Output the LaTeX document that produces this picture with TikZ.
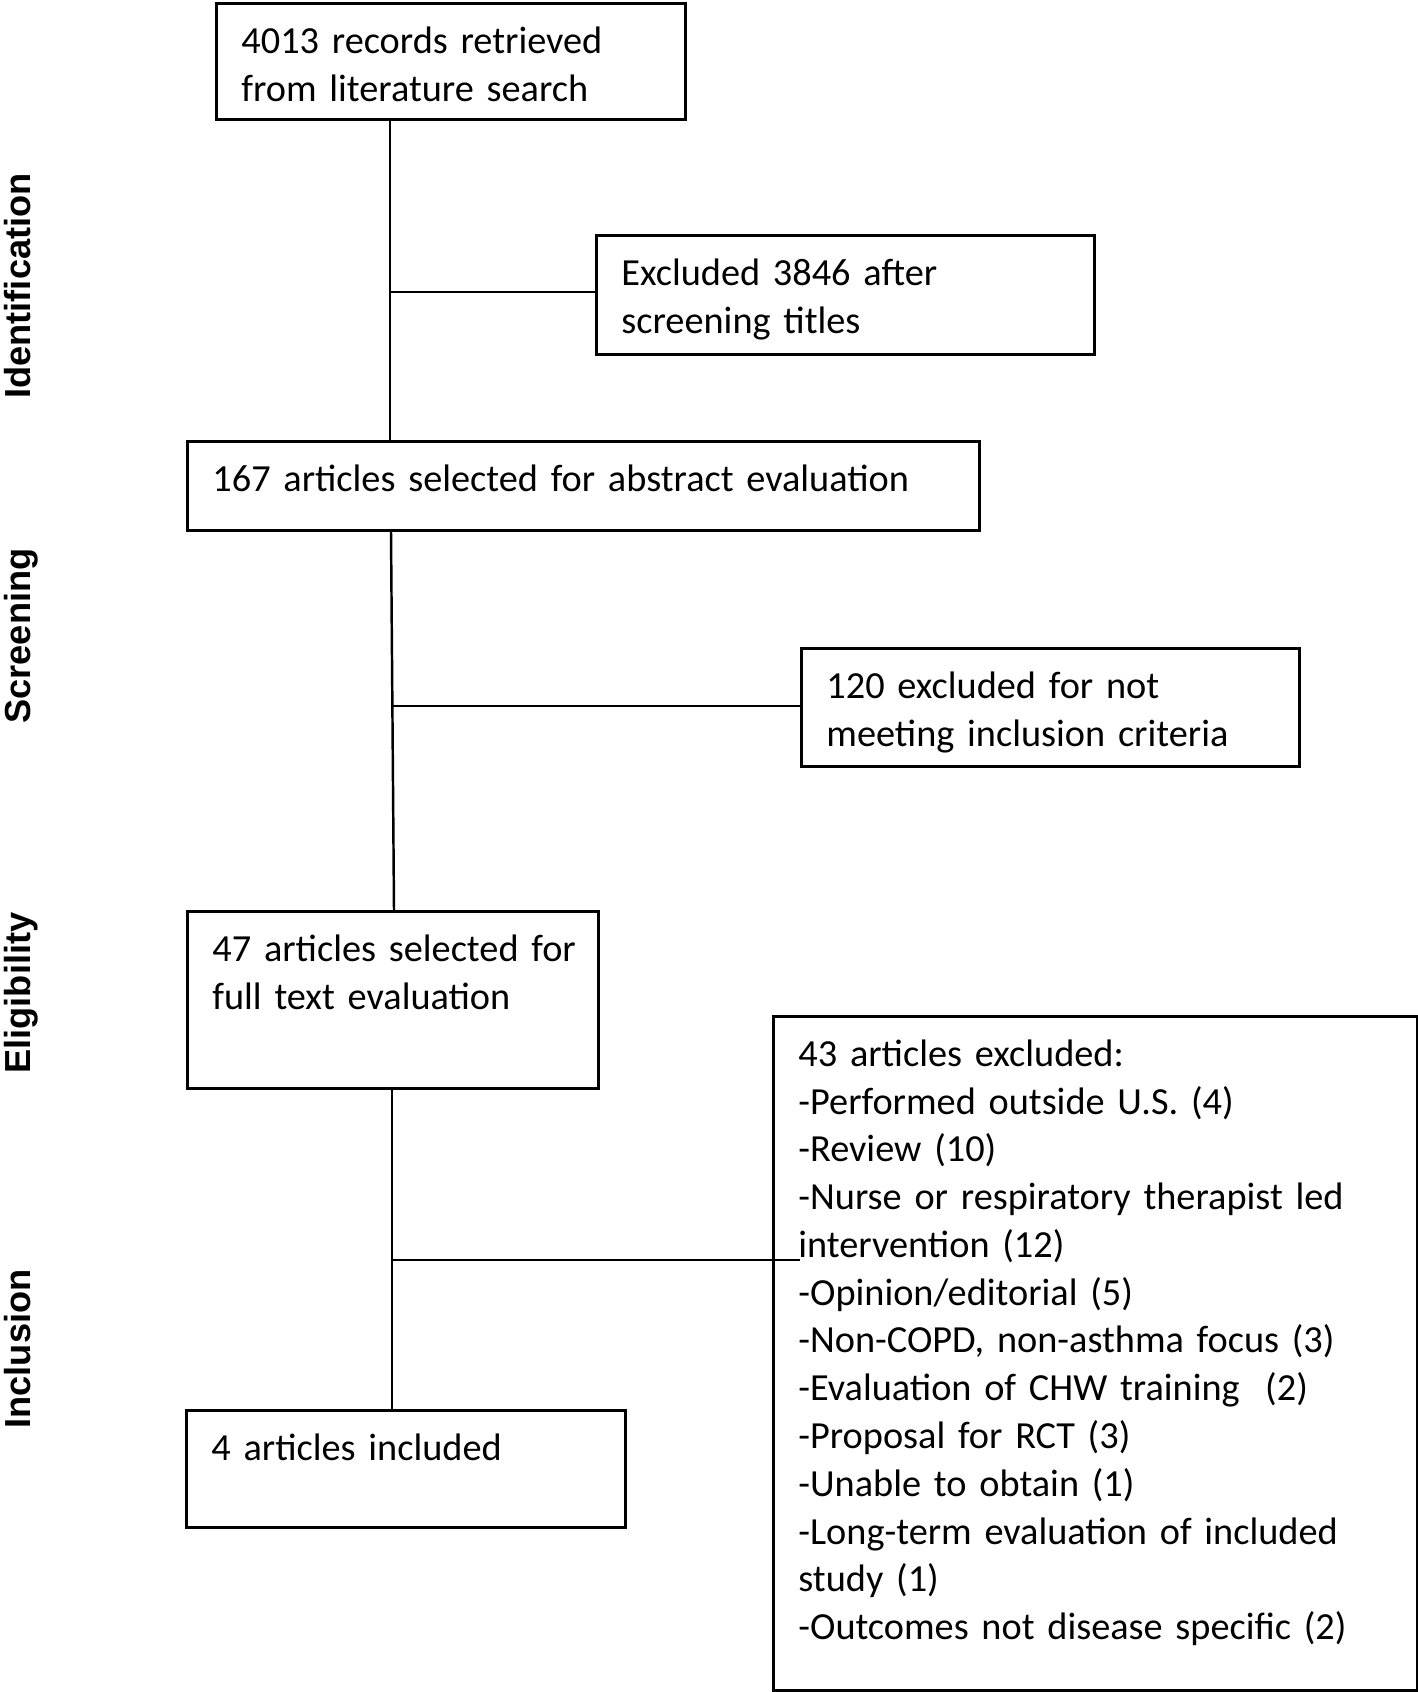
\documentclass[tikz,border=0pt]{standalone}
\usepackage{fontspec}
\setmainfont{Carlito}
\newfontfamily\stagefont{Liberation Sans}
\usepackage{tikz}
\usetikzlibrary{positioning,calc}

\tikzset{
  box/.style={draw,line width=0.8pt,anchor=north west,align=left,
    inner xsep=0.25cm,inner ysep=0pt,text height=0.5cm},
  stage/.style={rotate=90,anchor=base,inner sep=0pt,
    font=\stagefont\bfseries\fontsize{10.3}{12}\selectfont},
  link/.style={line width=0.7pt}
}

\begin{document}
\begin{tikzpicture}
        \tikzstyle{every node}=[font=\fontsize{10.9}{13.59}\selectfont]
        \useasboundingbox (0,0) rectangle (14.18,-16.92);

        %%% Stages
        \node[stage] (lident) at (0.30,-2.86) {Identification};
        \node[stage] (lscreen) at (0.30,-6.36) {Screening};
        \node[stage] (lelig) at (0.30,-9.93) {Eligibility};
        \node[stage] (lincl) at (0.30,-13.49) {Inclusion};

        %%% Boxes
        \node[box,text width=4.19cm,text depth=0.66cm] (records) at (2.15,-0.02)
            {4013 records retrieved\\from literature search};
        \node[box,text width=4.48cm,text depth=0.69cm] (extitles) at (5.95,-2.34)
            {Excluded 3846 after\\screening titles};
        \node[box,text width=7.42cm,text depth=0.39cm] (abstract) at (1.86,-4.40)
            {167 articles selected for abstract evaluation};
        \node[box,text width=4.48cm,text depth=0.68cm] (excrit) at (8.00,-6.47)
            {120 excluded for not\\meeting inclusion criteria};
        \node[box,text width=3.61cm,text depth=1.27cm] (fulltext) at (1.86,-9.10)
            {\mbox{47 articles selected for}\\full text evaluation};
        \node[box,text width=5.94cm,text depth=6.24cm] (exlist) at (7.72,-10.15)
            {43 articles excluded:\\
             -Performed outside U.S. (4)\\
             -Review (10)\\
             -Nurse or respiratory therapist led\\
             intervention (12)\\
             -Opinion/editorial (5)\\
             -Non-COPD, non-asthma focus (3)\\
             -Evaluation of CHW training~~(2)\\
             -Proposal for RCT (3)\\
             -Unable to obtain (1)\\
             -Long-term evaluation of included\\
             study (1)\\
             -Outcomes not disease specific (2)};
        \node[box,text width=3.89cm,text depth=0.67cm] (included) at (1.85,-14.09)
            {4 articles included};

        %%% Junctions
        \coordinate (j1) at (3.90,-2.92);
        \coordinate (j2) at (3.93,-7.06);
        \coordinate (j3) at (3.92,-12.60);

        %%% Lines
        \draw[link] (records.south -| j1) -- (abstract.north -| j1);
        \draw[link] (j1) -- (j1 -| extitles.west);
        \draw[link] ([xshift=-0.02cm]abstract.south -| j2) -- ([xshift=0.01cm]fulltext.north -| j2);
        \draw[link] (j2) -- (j2 -| excrit.west);
        \draw[link] (fulltext.south -| j3) -- (included.north -| j3);
        \draw[link] (j3) -- ([xshift=0.28cm]j3 -| exlist.west);
    \end{tikzpicture}
\end{document}
